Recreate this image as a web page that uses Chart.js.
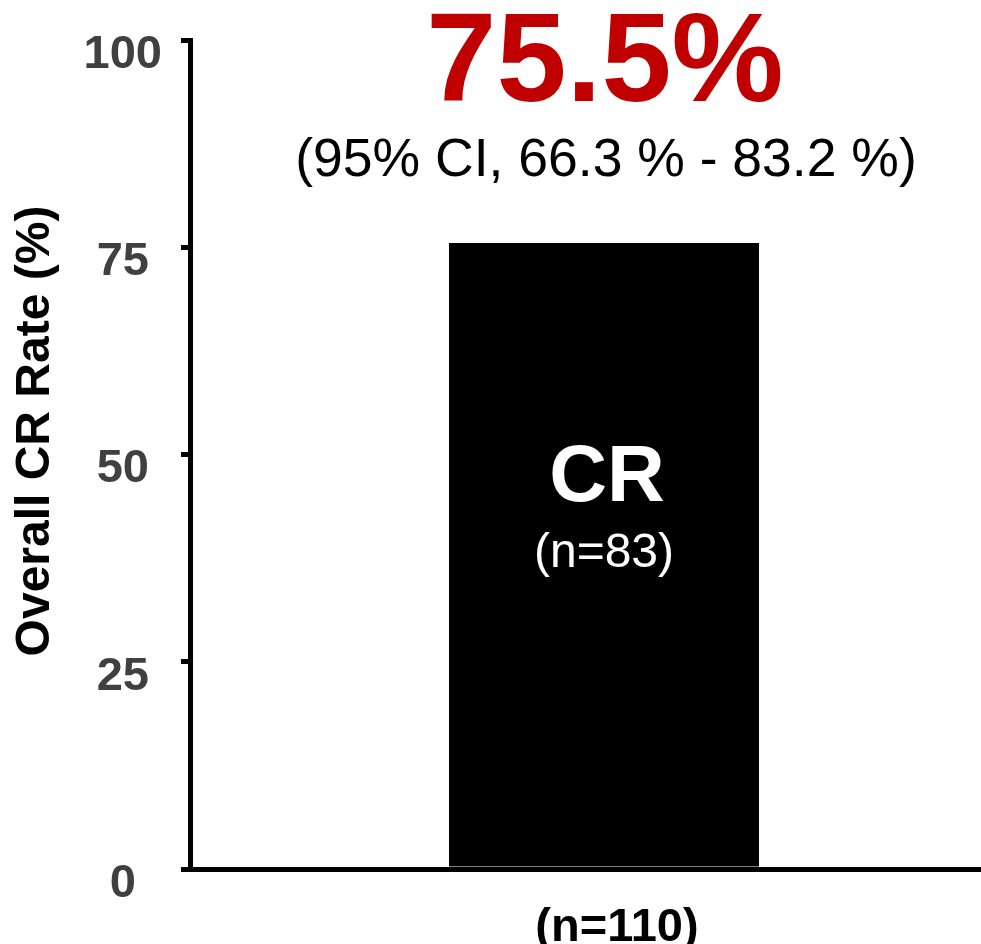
<!DOCTYPE html>
<html>
<head>
<meta charset="utf-8">
<title>Overall CR Rate</title>
<script src="https://cdn.jsdelivr.net/npm/chart.js@4.4.1/dist/chart.umd.min.js"></script>
<style>
  html, body { margin: 0; padding: 0; background: #fff; overflow: hidden; }
  canvas { display: block; }
</style>
</head>
<body>
<!-- canvas runs a bit past the right edge of the window, like the cut-off axis in the slide -->
<canvas id="myChart" width="1018" height="944"></canvas>
<script>
// chart data
const categories = ['(n=110)'];
const crRate = [75.5];
const yTicks = [0, 25, 50, 75, 100];
const yTitle = 'Overall CR Rate (%)';
const headline = '75.5%';
const ciText = '(95% CI, 66.3 % - 83.2 %)';
const barLabel = ['CR', '(n=83)'];

const FONT = "'Liberation Sans', Arial, sans-serif";

// y title, big red rate + CI above the bar, CR label inside the bar
const annotations = {
  id: 'annotations',
  afterDatasetsDraw(chart) {
    const ctx = chart.ctx;
    const bar = chart.getDatasetMeta(0).data[0];
    const y = chart.scales.y;
    const cx = bar.x;
    ctx.save();
    ctx.textAlign = 'center';

    ctx.save();
    ctx.translate(36, 431);
    ctx.rotate(-Math.PI / 2);
    ctx.textBaseline = 'middle';
    ctx.fillStyle = '#000';
    ctx.font = 'bold 48px ' + FONT;
    ctx.fillText(yTitle, 0, 0);
    ctx.restore();

    ctx.textBaseline = 'alphabetic';
    ctx.fillStyle = '#C00000';
    ctx.font = 'bold 126px ' + FONT;
    ctx.fillText(headline, cx + 1, 101);

    ctx.fillStyle = '#000';
    ctx.font = '53.5px ' + FONT;
    ctx.fillText(ciText, cx + 2, 176);

    ctx.fillStyle = '#fff';
    ctx.textBaseline = 'middle';
    ctx.font = 'bold 80px ' + FONT;
    ctx.fillText(barLabel[0], cx + 3, y.getPixelForValue(47));
    ctx.font = '48px ' + FONT;
    ctx.fillText(barLabel[1], cx, y.getPixelForValue(38));
    ctx.restore();
  }
};

const ctx = document.getElementById('myChart').getContext('2d');
const myChart = new Chart(ctx, {
  type: 'bar',
  data: {
    labels: categories,
    datasets: [{
      data: crRate,
      backgroundColor: '#000',
      borderWidth: 0,
      barPercentage: 0.3744,
      categoryPercentage: 1
    }]
  },
  options: {
    responsive: false,
    animation: false,
    layout: { padding: { top: 40, right: 0, left: 0, bottom: 0 } },
    plugins: {
      legend: { display: false },
      tooltip: { enabled: false }
    },
    scales: {
      x: {
        grid: { display: true, drawOnChartArea: false, drawTicks: false },
        border: { display: true, color: '#000', width: 5 },
        ticks: {
          color: '#000',
          font: { family: FONT, size: 47, weight: 'bold' },
          padding: 31,
          labelOffset: 13
        },
        afterFit(scale) { scale.height = 75; scale.paddingLeft = 0; scale.paddingRight = 0; }
      },
      y: {
        min: yTicks[0],
        max: yTicks[yTicks.length - 1],
        afterBuildTicks(scale) { scale.ticks = yTicks.map(v => ({ value: v })); },
        grid: {
          drawOnChartArea: false,
          drawTicks: true,
          tickLength: 9,
          color: '#000',
          lineWidth: 5
        },
        border: { display: true, color: '#000', width: 5 },
        ticks: {
          color: '#404040',
          font: { family: FONT, size: 47, weight: 'bold' },
          crossAlign: 'center',
          padding: 19,
          labelOffset: 15
        },
        afterFit(scale) { scale.width = 190; scale.paddingTop = 0; scale.paddingBottom = 0; }
      }
    }
  },
  plugins: [annotations]
});
</script>
</body>
</html>
